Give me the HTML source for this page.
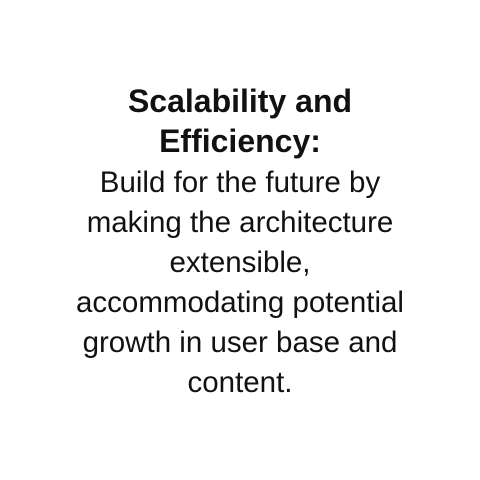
<!DOCTYPE html>
<html><head><meta charset="utf-8"><style>
html,body{margin:0;padding:0;background:#fff;}
body{width:480px;height:480px;position:relative;overflow:hidden;font-family:"Liberation Sans",sans-serif;color:#111;}
.t{position:absolute;left:0;width:480px;text-align:center;line-height:40px;white-space:nowrap;}
.b{font-weight:bold;font-size:32px;}
.n{font-size:29.5px;}
</style></head><body>
<div class="t b" style="top:81px">Scalability and<br>Efficiency:</div>
<div class="t n" style="top:163px">Build for the future by<br>making the architecture<br>extensible,<br>accommodating potential<br>growth in user base and<br>content.</div>
</body></html>
